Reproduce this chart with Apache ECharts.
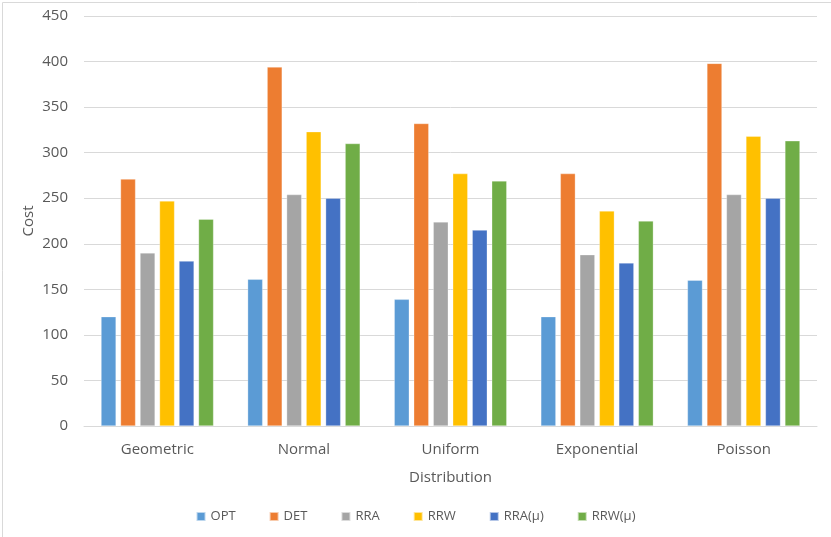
<!DOCTYPE html>
<html>
<head>
<meta charset="utf-8">
<script src="https://cdn.jsdelivr.net/npm/echarts@6/dist/echarts.min.js"></script>
<style>
html,body{margin:0;padding:0;background:#fff;}
#chart{width:831px;height:537px;}
</style>
</head>
<body>
<div id="chart"></div>
<script>
const categories = ['Geometric', 'Normal', 'Uniform', 'Exponential', 'Poisson'];
const seriesNames = ['OPT', 'DET', 'RRA', 'RRW', 'RRA(μ)', 'RRW(μ)'];
const OPT = [120, 161, 139, 120, 160];
const DET = [271, 394, 332, 277, 398];
const RRA = [190, 254, 224, 188, 254];
const RRW = [247, 323, 277, 236, 318];
const RRA_MU = [181, 250, 215, 179, 250];
const RRW_MU = [227, 310, 269, 225, 313];
const yTicks = [0, 50, 100, 150, 200, 250, 300, 350, 400, 450];

const values = [OPT, DET, RRA, RRW, RRA_MU, RRW_MU];
const colors = ['#5B9BD5', '#ED7D31', '#A5A5A5', '#FFC000', '#4472C4', '#70AD47'];
const font = 'Open Sans';
const textColor = '#595959';

const chart = echarts.init(document.getElementById('chart'));
chart.setOption({
  animation: false,
  color: colors,
  textStyle: { fontFamily: font },
  graphic: [{
    type: 'rect', left: 0, top: 0,
    shape: { x: 0.5, y: 0.5, width: 830, height: 536 },
    style: { fill: 'none', stroke: '#d9d9d9', lineWidth: 1 },
    silent: true
  }],
  grid: { left: 84, right: 14, top: 16, bottom: 111 },
  legend: {
    bottom: 9,
    left: 'center',
    itemWidth: 9,
    itemHeight: 9,
    itemGap: 33,
    icon: 'rect',
    textStyle: { fontFamily: font, fontSize: 13, color: textColor },
    data: seriesNames
  },
  xAxis: {
    type: 'category',
    data: categories,
    name: 'Distribution',
    nameLocation: 'middle',
    nameGap: 44,
    nameTextStyle: { fontFamily: font, fontSize: 15, color: textColor },
    axisLine: { lineStyle: { color: '#d9d9d9', width: 1 } },
    axisTick: { show: false },
    axisLabel: { fontFamily: font, fontSize: 15, color: textColor, margin: 16 }
  },
  yAxis: {
    type: 'value',
    min: yTicks[0],
    max: yTicks[yTicks.length - 1],
    interval: yTicks[1] - yTicks[0],
    name: 'Cost',
    nameLocation: 'middle',
    nameGap: 48,
    nameMoveOverlap: false,
    nameTextStyle: { fontFamily: font, fontSize: 15, color: textColor },
    axisLine: { show: false },
    axisTick: { show: false },
    axisLabel: { fontFamily: font, fontSize: 15, color: textColor, margin: 16 },
    splitLine: { lineStyle: { color: '#d9d9d9', width: 1 } }
  },
  series: seriesNames.map((n, i) => ({
    name: n,
    type: 'bar',
    data: values[i],
    barWidth: 15,
    barGap: '30%',
    itemStyle: { color: colors[i], borderColor: 'rgba(255,255,255,0.6)', borderWidth: 0.5 }
  }))
});
</script>
</body>
</html>
